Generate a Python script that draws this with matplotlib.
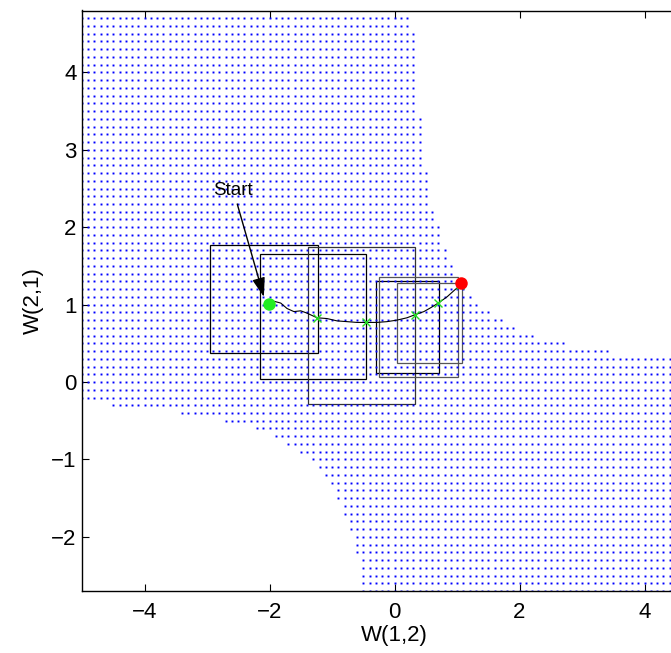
import numpy as np
import matplotlib
matplotlib.use("Agg")
import matplotlib.pyplot as plt
from matplotlib.patches import Rectangle

plt.rcParams['font.family'] = ['Liberation Sans', 'DejaVu Sans']

# Dot grid: rows 4.8 .. -2.7 at 0.1 steps, clipped by two empty regions
grid_step = 0.1
grid_xmin, grid_xmax = -5.0, 5.0
grid_ymin, grid_ymax = -2.7, 4.8

# upper-right empty region: last dot per row
upper_y = [4.8, 4.7, 4.6, 4.5, 4.4, 4.3, 4.2, 4.1, 4.0, 3.9, 3.8, 3.7, 3.6, 3.5,
           3.4, 3.3, 3.2, 3.1, 3.0, 2.9, 2.8, 2.7, 2.6, 2.5, 2.4, 2.3, 2.2, 2.1,
           2.0, 1.9, 1.8, 1.7, 1.6, 1.5, 1.4, 1.3, 1.2, 1.1, 1.0, 0.9, 0.8, 0.7,
           0.6, 0.5, 0.4]
upper_xmax = [0.2, 0.2, 0.2, 0.3, 0.3, 0.3, 0.3, 0.3, 0.3, 0.3, 0.3, 0.3, 0.3, 0.3,
              0.4, 0.4, 0.4, 0.4, 0.4, 0.4, 0.4, 0.5, 0.5, 0.5, 0.5, 0.5, 0.6, 0.6,
              0.7, 0.7, 0.7, 0.8, 0.8, 0.9, 0.9, 1.0, 1.1, 1.2, 1.3, 1.5, 1.7, 1.9,
              2.2, 2.7, 3.4]

# lower-left empty region: first dot per row
lower_y = [-0.3, -0.4, -0.5, -0.6, -0.7, -0.8, -0.9, -1.0, -1.1, -1.2, -1.3, -1.4,
           -1.5, -1.6, -1.7, -1.8, -1.9, -2.0, -2.1, -2.2, -2.3, -2.4, -2.5, -2.6, -2.7]
lower_xmin = [-4.5, -3.4, -2.7, -2.2, -1.9, -1.7, -1.5, -1.3, -1.2, -1.1, -1.0, -0.9,
              -0.9, -0.8, -0.8, -0.7, -0.7, -0.6, -0.6, -0.6, -0.5, -0.5, -0.5, -0.5, -0.5]

# search boxes (x0, x1, y0, y1)
box_x0 = [-2.95, -2.15, -1.39, -0.29, -0.25, 0.04]
box_x1 = [-1.22, -0.46, 0.32, 0.71, 1.02, 1.08]
box_y0 = [0.38, 0.04, -0.28, 0.12, 0.07, 0.25]
box_y1 = [1.77, 1.66, 1.74, 1.30, 1.36, 1.28]
box_colors = ['black', 'black', '#333333', 'black', '#555555', '#555555']

# trajectory
path_x = [-1.96, -1.82, -1.72, -1.61, -1.50, -1.40, -1.24, -1.08, -0.92, -0.76,
          -0.60, -0.45, -0.28, -0.12, 0.04, 0.20, 0.33, 0.47, 0.58, 0.70, 0.84,
          0.95, 1.05, 1.08]
path_y = [1.05, 1.02, 0.95, 0.91, 0.92, 0.89, 0.83, 0.82, 0.79, 0.78,
          0.77, 0.77, 0.77, 0.78, 0.80, 0.83, 0.87, 0.91, 0.96, 1.02, 1.10,
          1.18, 1.25, 1.28]
cross_x = [-1.24, -0.45, 0.33, 0.70, 1.05]
cross_y = [0.83, 0.77, 0.87, 1.02, 1.25]
start_pt = (-2.01, 1.01)
end_pt = (1.07, 1.28)

xmax_of = dict(zip(upper_y, upper_xmax))
xmin_of = dict(zip(lower_y, lower_xmin))
dots_x, dots_y = [], []
n_rows = int(round((grid_ymax - grid_ymin) / grid_step)) + 1
for i in range(n_rows):
    y = round(grid_ymax - i * grid_step, 1)
    lo = xmin_of.get(y, grid_xmin)
    hi = xmax_of.get(y, grid_xmax)
    xs = np.arange(int(round(lo / grid_step)), int(round(hi / grid_step)) + 1) * grid_step
    dots_x.extend(xs)
    dots_y.extend([y] * len(xs))

fig = plt.figure(figsize=(6.71, 6.53), dpi=100)
ax = fig.add_axes([82 / 671, 62 / 653, 625 / 671, 580.5 / 653])

ax.plot(dots_x, dots_y, linestyle='none', marker='s', markersize=1.4,
        markeredgewidth=0, color='#0000ff')

for x0, x1, y0, y1, c in zip(box_x0, box_x1, box_y0, box_y1, box_colors):
    ax.add_patch(Rectangle((x0, y0), x1 - x0, y1 - y0, fill=False,
                           edgecolor=c, linewidth=0.9))

ax.plot(path_x, path_y, color='black', linewidth=0.8)
ax.plot(cross_x, cross_y, linestyle='none', marker='x', markersize=6,
        markeredgewidth=1.0, color='#22dd22')
ax.plot(*start_pt, marker='o', markersize=9, color='#22ee22', markeredgewidth=0)
ax.plot(*end_pt, marker='o', markersize=9, color='#ff0000', markeredgewidth=0)

ax.annotate('Start', xy=(-2.09, 1.10), xytext=(-2.58, 2.48),
            ha='center', va='center', fontsize=13.5,
            arrowprops=dict(arrowstyle='-|>,head_length=0.9,head_width=0.3',
                            mutation_scale=13, color='black', lw=1.0,
                            shrinkA=2, shrinkB=0))

ax.set_xlim(-5, 5)
ax.set_ylim(-2.7, 4.8)
ax.set_xticks([-4, -2, 0, 2, 4])
ax.set_yticks([-2, -1, 0, 1, 2, 3, 4])
ax.tick_params(direction='in', length=5, width=0.8, labelsize=16,
               top=True, right=True, pad=8)
ax.tick_params(axis='y', pad=4)
for s in ax.spines.values():
    s.set_linewidth(1.0)
ax.set_xlabel('W(1,2)', fontsize=16, labelpad=1)
ax.set_ylabel('W(2,1)', fontsize=16, labelpad=5)

fig.savefig('out.png', dpi=100)
